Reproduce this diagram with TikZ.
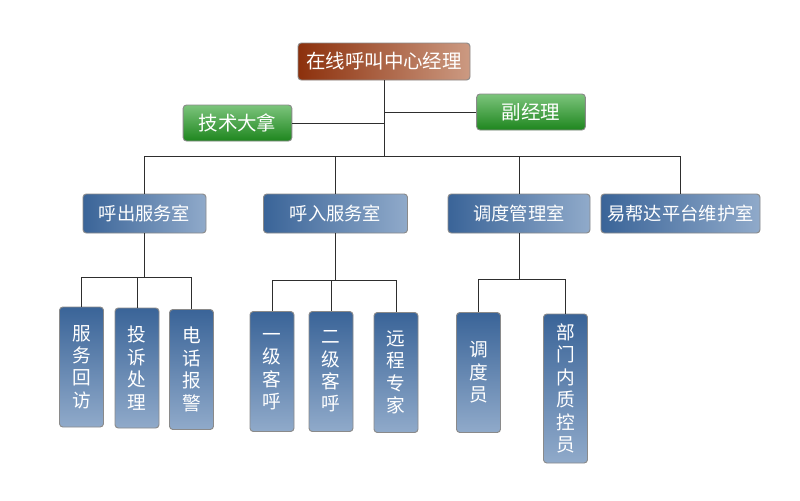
\documentclass[tikz,border=0pt]{standalone}
\usepackage{fontspec}
\setmainfont{Noto Sans CJK SC}
\usepackage{xcolor}
\usepackage{tikz}
\usetikzlibrary{positioning,calc}
\definecolor{OCBrownDk}{HTML}{8C300C}
\definecolor{OCBrownLt}{HTML}{CC9A82}
\definecolor{OCGreenLt}{HTML}{7CC47C}
\definecolor{OCGreenDk}{HTML}{1E861E}
\definecolor{OCBlueDk}{HTML}{3A6498}
\definecolor{OCBlueLt}{HTML}{90AACA}
\definecolor{OCEdge}{HTML}{8A8A8A}
\definecolor{OCLine}{HTML}{2E2E2E}

\tikzset{
  orgbox/.style={draw=OCEdge,line width=0.7pt,rounded corners=2.5pt,
    text=white,inner sep=0pt,align=center},
  headbox/.style={orgbox,left color=OCBrownDk,right color=OCBrownLt,
    minimum width=129pt,minimum height=27.75pt,
    font=\fontsize{14.6}{16}\selectfont},
  aidbox/.style={orgbox,top color=OCGreenLt,bottom color=OCGreenDk,
    minimum width=81.5pt,minimum height=27pt,
    font=\fontsize{14.6}{16}\selectfont},
  deptbox/.style={orgbox,left color=OCBlueDk,right color=OCBlueLt,
    minimum height=29.25pt,font=\fontsize{13.7}{15}\selectfont},
  postbox/.style={orgbox,top color=OCBlueDk,bottom color=OCBlueLt,
    minimum width=33pt,minimum height=90pt,
    font=\fontsize{14}{16.8}\selectfont},
  link/.style={draw=OCLine,line width=0.75pt}
}

\begin{document}
\begin{tikzpicture}[x=0.75pt,y=-0.75pt]
  \path[use as bounding box,fill=white] (0,0) rectangle (800,500);

  % Management level
  \node[headbox] (mgr) at (384,61.5) {在线呼叫中心经理};
  \node[aidbox] (tech) at (237.5,123) {技术大拿};
  \node[aidbox] (deputy) at (531,112) {副经理};

  % Rooms
  \node[deptbox,minimum width=92.25pt] (outroom) at (144.5,213.5) {呼出服务室};
  \node[deptbox,minimum width=108pt] (inroom) at (335.5,213.5) {呼入服务室};
  \node[deptbox,minimum width=106.5pt] (dispatch) at (519,213.5) {调度管理室};
  \node[deptbox,minimum width=119.25pt] (platform) at (680.5,213.5) {易帮达平台维护室};

  % Posts (vertical text)
  \node[postbox] (revisit) at (81.5,367) {服\\务\\回\\访};
  \node[postbox] (complaint) at (137,368) {投\\诉\\处\\理};
  \node[postbox] (alarm) at (191.5,369.5) {电\\话\\报\\警};
  \node[postbox] (firstline) at (272,371.5) {一\\级\\客\\呼};
  \node[postbox] (secondline) at (331,371.5) {二\\级\\客\\呼};
  \node[postbox] (remote) at (396,372.5) {远\\程\\专\\家};
  \node[postbox] (dispatcher) at (478.5,372.5) {调\\度\\员};
  \node[postbox,minimum height=111.75pt] (quality) at (565.5,388.5)
    {部\\门\\内\\质\\控\\员};

  % Bus points
  \coordinate (hub) at (384,156);
  \coordinate (outbus) at (138,277);
  \coordinate (inbus) at (332,280);
  \coordinate (disbus) at (524,279);

  % Connectors
  \draw[link] (mgr.south) -- (hub);
  \draw[link] (tech.east) -- (tech.east -| mgr.south);
  \draw[link] (deputy.west) -- (deputy.west -| mgr.south);
  \foreach \n in {outroom,inroom,dispatch,platform}
    \draw[link] (hub) -| (\n.north);

  \draw[link] (outroom.south) -- (outroom.south |- outbus);
  \foreach \n in {revisit,complaint,alarm}
    \draw[link] (outroom.south |- outbus) -| (\n.north);
  \draw[link] (inroom.south) -- (inroom.south |- inbus);
  \foreach \n in {firstline,secondline,remote}
    \draw[link] (inroom.south |- inbus) -| (\n.north);
  \draw[link] (dispatch.south) -- (dispatch.south |- disbus);
  \foreach \n in {dispatcher,quality}
    \draw[link] (dispatch.south |- disbus) -| (\n.north);
\end{tikzpicture}
\end{document}
